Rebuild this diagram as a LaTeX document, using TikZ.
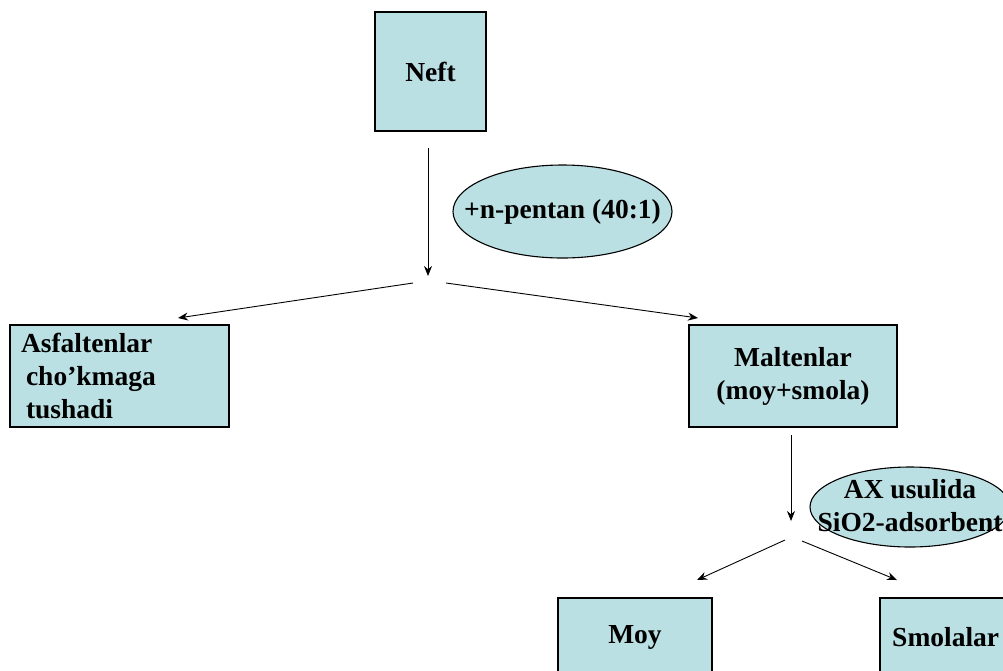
\documentclass[tikz,border=0pt]{standalone}
\usepackage{fontspec}
\setmainfont{Liberation Serif}
\usetikzlibrary{arrows.meta,shapes.geometric}
\definecolor{boxfill}{RGB}{187,224,227}
\tikzset{
  txt/.style={font=\fontsize{27.5}{33}\selectfont\bfseries, align=center, inner sep=0pt},
  boxnode/.style={draw=black, line width=1.3pt, fill=boxfill, rectangle, inner sep=0pt, txt},
  ellnode/.style={draw=black, line width=1.1pt, fill=boxfill, ellipse, inner sep=0pt},
  arr/.style={draw=black, line width=0.9pt, -{Stealth[length=10pt,width=8pt]}}
}
\begin{document}
\begin{tikzpicture}[x=1pt,y=-1pt]
\useasboundingbox (0,0) rectangle (1003,670);
\clip (0,0) rectangle (1003,670);
% boxes
\node[boxnode, minimum width=111pt, minimum height=119pt] (neft) at (430.5,71.5) {Neft};
\node[ellnode, minimum width=219pt, minimum height=93pt] (pent) at (562.5,211.5) {};
\node[txt] (pentt) at (pent.center) {+n-pentan (40:1)};
\node[boxnode, minimum width=219pt, minimum height=102pt, text width=197pt, align=left] (asf) at (119.5,376) {Asfaltenlar\\\hspace*{5pt}cho’kmaga\\\hspace*{5pt}tushadi};
\node[boxnode, minimum width=208pt, minimum height=102pt] (malt) at (793,376) {Maltenlar\\(moy+smola)};
\node[ellnode, minimum width=200pt, minimum height=80pt] (ax) at (910,507) {};
\node[txt] (axt) at (910,506) {AX usulida\\SiO2-adsorbent};
\node[boxnode, minimum width=154pt, minimum height=100pt] (moy) at (635,648) {};
\node[txt] (moyt) at (635,637) {Moy};
\node[boxnode, minimum width=160pt, minimum height=100pt] (smol) at (960,648) {};
\node[txt, anchor=west] (smolt) at (892,637) {Smolalar};
% connector points
\coordinate (a1s) at (428,148);
\coordinate (a1e) at (428,276);
\coordinate (a2s) at (413,283);
\coordinate (a2e) at (178,318);
\coordinate (a3s) at (446,283);
\coordinate (a3e) at (698,318);
\coordinate (a4s) at (791,435);
\coordinate (a4e) at (791,521);
\coordinate (a5s) at (785,540);
\coordinate (a5e) at (697,580);
\coordinate (a6s) at (802,541);
\coordinate (a6e) at (897,580);
\draw[arr] (a1s) -- (a1e);
\draw[arr] (a2s) -- (a2e);
\draw[arr] (a3s) -- (a3e);
\draw[arr] (a4s) -- (a4e);
\draw[arr] (a5s) -- (a5e);
\draw[arr] (a6s) -- (a6e);
\end{tikzpicture}
\end{document}
